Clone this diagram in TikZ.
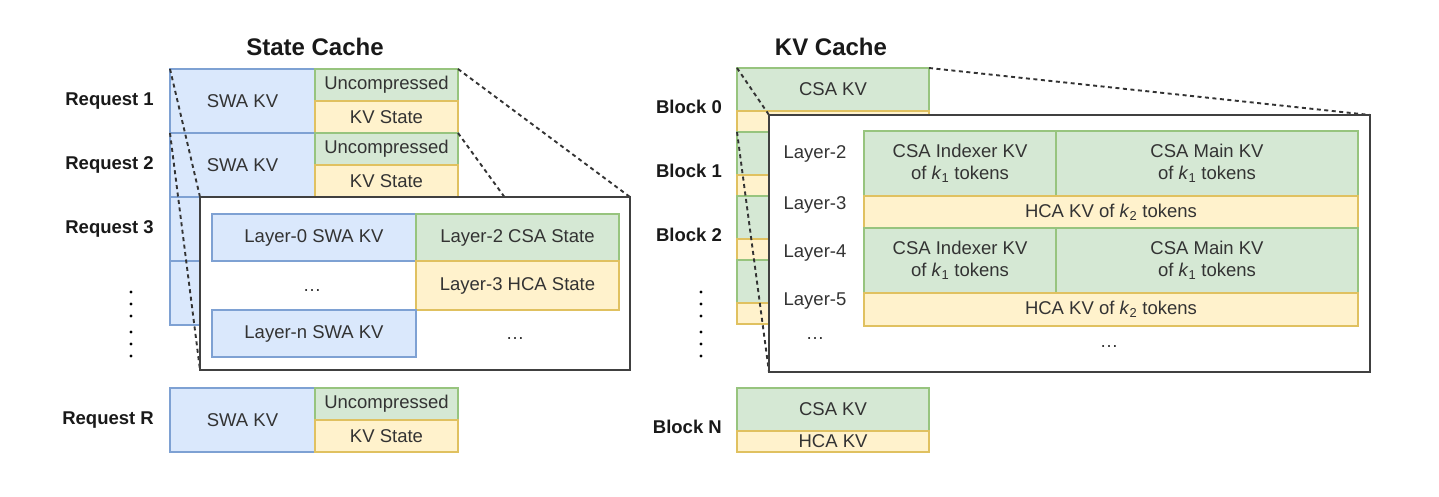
\documentclass[tikz,border=0pt]{standalone}
\usepackage{fontspec}
\setmainfont{Liberation Sans}
\pgfdeclarelayer{front}
\pgfsetlayers{main,front}
\definecolor{bfill}{HTML}{DAE8FC}
\definecolor{bdraw}{HTML}{7EA1D3}
\definecolor{gfill}{HTML}{D5E8D4}
\definecolor{gdraw}{HTML}{97C47E}
\definecolor{yfill}{HTML}{FFF2CC}
\definecolor{ydraw}{HTML}{E0C160}
\definecolor{txt}{HTML}{333333}
\definecolor{frame}{HTML}{404040}
\newcommand\cell[7]{\node[#1,minimum width={(#5)-(#3)},minimum height={(#6)-(#4)}] (#2) at (#3,#4) {#7};}
\newcommand\kk[1]{\textit{k}\textsubscript{#1}}
\begin{document}
\begin{tikzpicture}[x=1pt,y=-1pt,
  base/.style={draw, line width=1.1pt, inner sep=0pt, outer sep=0pt, anchor=north west,
    font=\fontsize{18.5}{22.5}\selectfont, text=txt, align=center},
  bluebox/.style={base, fill=bfill, draw=bdraw},
  greenbox/.style={base, fill=gfill, draw=gdraw},
  yellowbox/.style={base, fill=yfill, draw=ydraw},
  zoombox/.style={draw=frame, fill=white, line width=1.6pt, inner sep=0pt, outer sep=0pt, anchor=north west},
  lbl/.style={font=\fontsize{18.5}{22.5}\selectfont\bfseries, text=black!90, inner sep=0pt},
  plain/.style={font=\fontsize{18.5}{22.5}\selectfont, text=txt, inner sep=0pt},
  ttl/.style={font=\fontsize{24}{28}\selectfont\bfseries, text=black!90, inner sep=0pt},
  dashline/.style={draw=black!80, line width=1.9pt, dash pattern=on 4pt off 3.5pt}
]
\useasboundingbox (0,0) rectangle (1439,497);

% titles
\node[ttl] (t1) at (315,47) {State Cache};
\node[ttl] (t2) at (831,47) {KV Cache};

% ---------------- State cache requests
\foreach \i/\y/\ta/\tb/\tc in {1/69/SWA KV/Uncompressed/KV State,2/133/SWA KV/Uncompressed/KV State,3/197///,4/261///}{
  \cell{bluebox}{r\i swa}{170}{\y}{315}{\y+64}{\ta}
  \cell{greenbox}{r\i u}{315}{\y}{458}{\y+32}{\tb}
  \cell{yellowbox}{r\i k}{315}{\y+32}{458}{\y+64}{\tc}
}
\cell{bluebox}{rRswa}{170}{388}{315}{452}{SWA KV}
\cell{greenbox}{rRu}{315}{388}{458}{420}{Uncompressed}
\cell{yellowbox}{rRk}{315}{420}{458}{452}{KV State}

\node[lbl, anchor=east] (lr1) at (154,101) {Request 1};
\node[lbl, anchor=east] (lr2) at (154,165) {Request 2};
\node[lbl, anchor=east] (lr3) at (154,229) {Request 3};
\node[lbl, anchor=east] (lrR) at (154,420) {Request R};
\foreach \yy in {292,304,316,332,344,356} \fill[black] (131,\yy) circle (1.6);

% ---------------- KV cache blocks
\cell{greenbox}{b0c}{737}{68}{929}{111}{CSA KV}
\cell{yellowbox}{b0h}{737}{111}{929}{132}{HCA KV}
\foreach \i/\y in {1/132,2/196,3/260}{
  \cell{greenbox}{b\i c}{737}{\y}{929}{\y+43}{}
  \cell{yellowbox}{b\i h}{737}{\y+43}{929}{\y+64}{}
}
\cell{greenbox}{bNc}{737}{388}{929}{431}{CSA KV}
\cell{yellowbox}{bNh}{737}{431}{929}{452}{HCA KV}

\node[lbl, anchor=east] (lb0) at (722,107) {Block 0};
\node[lbl, anchor=east] (lb1) at (722,171) {Block 1};
\node[lbl, anchor=east] (lb2) at (722,235) {Block 2};
\node[lbl, anchor=east] (lbN) at (722,427) {Block N};
\foreach \yy in {292,304,316,332,344,356} \fill[black] (701,\yy) circle (1.6);

% ---------------- zoomed views (front layer)
\begin{pgfonlayer}{front}
\node[zoombox, minimum width=430, minimum height=173] (sov) at (200,197) {};
\cell{bluebox}{s0}{212}{214}{416}{261}{Layer-0 SWA KV}
\cell{greenbox}{s2}{416}{214}{619}{261}{Layer-2 CSA State}
\cell{yellowbox}{s3}{416}{261}{619}{310}{Layer-3 HCA State}
\cell{bluebox}{sn}{212}{310}{416}{357}{Layer-n SWA KV}
\node[plain] (sd1) at (312,291) {…};
\node[plain] (sd2) at (515,339) {…};

\node[zoombox, minimum width=601, minimum height=257] (kov) at (769,115) {};
\cell{greenbox}{k2i}{864}{131}{1056}{196}{CSA Indexer KV\\of \kk{1} tokens}
\cell{greenbox}{k2m}{1056}{131}{1358}{196}{CSA Main KV\\of \kk{1} tokens}
\cell{yellowbox}{k3}{864}{196}{1358}{228}{HCA KV of \kk{2} tokens}
\cell{greenbox}{k4i}{864}{228}{1056}{293}{CSA Indexer KV\\of \kk{1} tokens}
\cell{greenbox}{k4m}{1056}{228}{1358}{293}{CSA Main KV\\of \kk{1} tokens}
\cell{yellowbox}{k5}{864}{293}{1358}{326}{HCA KV of \kk{2} tokens}
\node[plain] (kl2) at (815,154) {Layer-2};
\node[plain] (kl3) at (815,205) {Layer-3};
\node[plain] (kl4) at (815,253) {Layer-4};
\node[plain] (kl5) at (815,301) {Layer-5};
\node[plain] (kd1) at (815,339) {…};
\node[plain] (kd2) at (1109,347) {…};
\end{pgfonlayer}

% ---------------- dashed projection lines (below zoomed views)
\draw[dashline] (r1swa.north west) -- (sov.north west);
\draw[dashline] (r2swa.north west) -- (sov.south west);
\draw[dashline] (r1u.north east) -- (sov.north east);
\draw[dashline] (r2u.north east) -- (sov.south east);
\draw[dashline] (b0c.north west) -- (kov.north west);
\draw[dashline] (b1c.north west) -- (kov.south west);
\draw[dashline] (b0c.north east) -- (kov.north east);
\draw[dashline] (b1c.north east) -- (kov.south east);
\end{tikzpicture}
\end{document}
